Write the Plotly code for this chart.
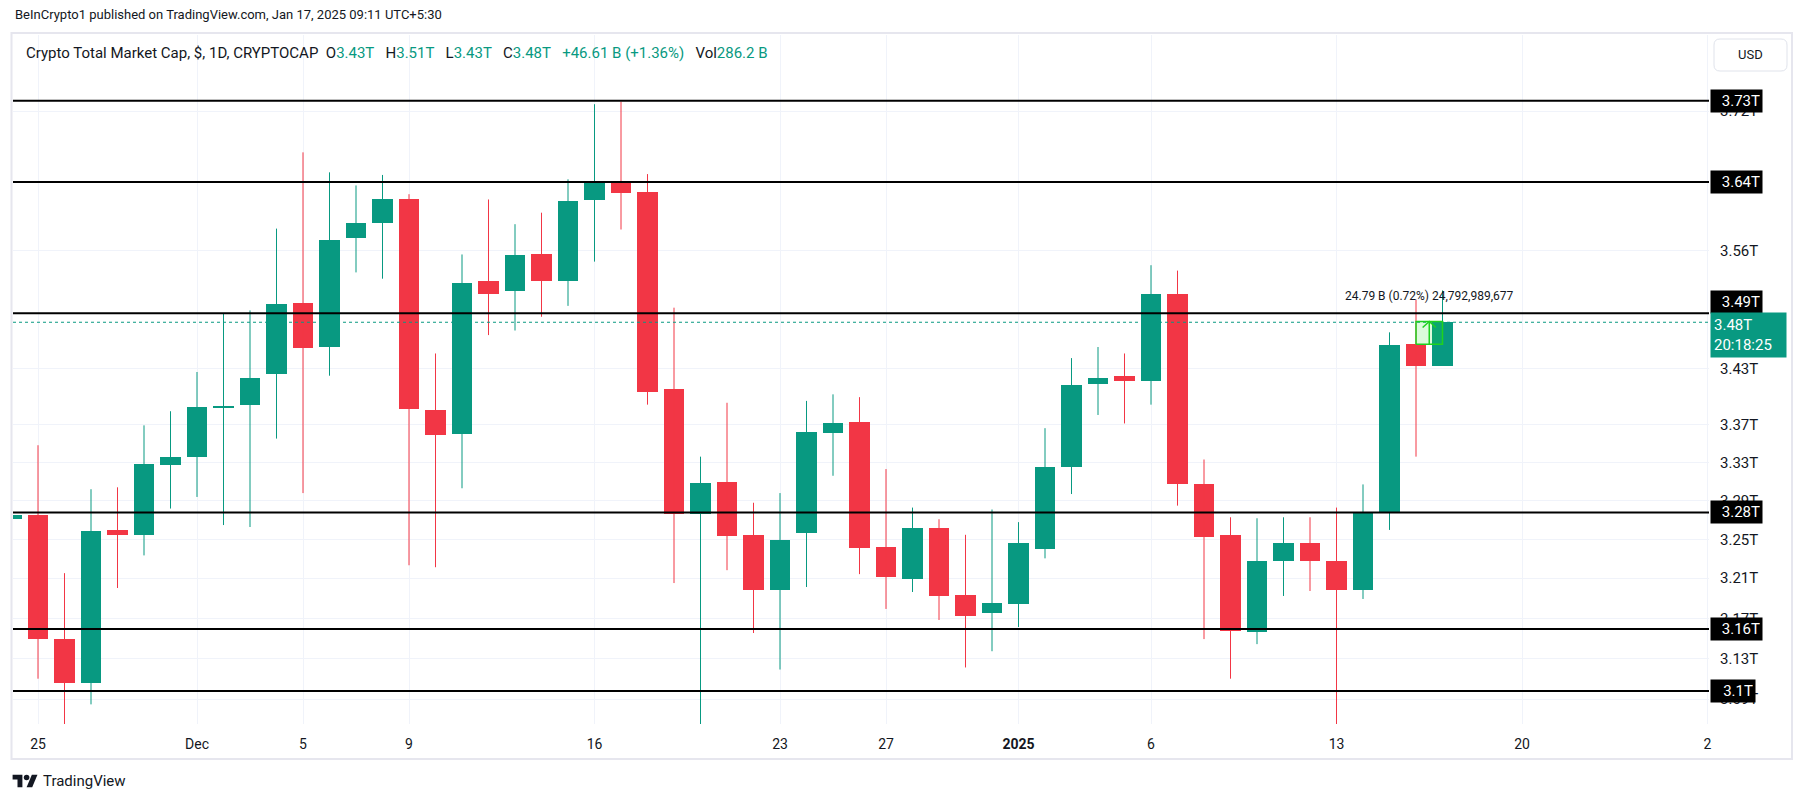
import numpy as np
import pandas as pd
import plotly.graph_objects as go

# ---------------- data (values in trillions USD) ----------------
start_date = "2024-11-24"
opens  = [3.271, 3.275, 3.150, 3.107, 3.260, 3.255, 3.327, 3.336, 3.388, 3.391,
          3.424, 3.501, 3.453, 3.573, 3.590, 3.617, 3.385, 3.360, 3.526, 3.514,
          3.555, 3.526, 3.616, 3.638, 3.625, 3.408, 3.276, 3.309, 3.255, 3.199,
          3.257, 3.361, 3.373, 3.243, 3.210, 3.262, 3.194, 3.176, 3.185, 3.241,
          3.325, 3.413, 3.422, 3.416, 3.511, 3.307, 3.255, 3.157, 3.228, 3.247,
          3.228, 3.199, 3.278, 3.456, 3.433]
highs  = [3.290, 3.348, 3.216, 3.302, 3.304, 3.369, 3.384, 3.426, 3.490, 3.493,
          3.584, 3.671, 3.648, 3.633, 3.645, 3.623, 3.446, 3.555, 3.617, 3.589,
          3.602, 3.640, 3.727, 3.730, 3.646, 3.496, 3.336, 3.393, 3.288, 3.298,
          3.395, 3.402, 3.399, 3.323, 3.283, 3.271, 3.255, 3.281, 3.268, 3.366,
          3.441, 3.453, 3.446, 3.543, 3.537, 3.333, 3.273, 3.272, 3.273, 3.273,
          3.283, 3.307, 3.469, 3.505, 3.515]
lows   = [3.250, 3.111, 3.060, 3.086, 3.201, 3.234, 3.282, 3.294, 3.265, 3.263,
          3.355, 3.298, 3.422, 3.535, 3.528, 3.224, 3.222, 3.303, 3.466, 3.471,
          3.486, 3.498, 3.547, 3.583, 3.391, 3.206, 3.060, 3.219, 3.156, 3.120,
          3.202, 3.316, 3.215, 3.180, 3.197, 3.169, 3.122, 3.138, 3.162, 3.231,
          3.297, 3.380, 3.371, 3.391, 3.285, 3.150, 3.111, 3.145, 3.193, 3.198,
          3.060, 3.190, 3.260, 3.336, 3.433]
closes = [3.275, 3.150, 3.107, 3.259, 3.255, 3.328, 3.336, 3.388, 3.390, 3.420,
          3.500, 3.452, 3.571, 3.590, 3.617, 3.386, 3.359, 3.523, 3.511, 3.554,
          3.526, 3.615, 3.638, 3.624, 3.405, 3.276, 3.308, 3.254, 3.199, 3.250,
          3.362, 3.371, 3.242, 3.212, 3.262, 3.193, 3.173, 3.186, 3.247, 3.325,
          3.412, 3.420, 3.416, 3.511, 3.307, 3.253, 3.158, 3.228, 3.247, 3.228,
          3.199, 3.278, 3.455, 3.432, 3.480]

levels       = [3.731, 3.637, 3.490, 3.278, 3.160, 3.099]
level_labels = ["3.73T", "3.64T", "3.49T", "3.28T", "3.16T", "3.1T"]

ytick_vals = [3.719, 3.559, 3.430, 3.370, 3.330, 3.290, 3.250, 3.211, 3.170, 3.131, 3.091]
ytick_text = ["3.72T", "3.56T", "3.43T", "3.37T", "3.33T", "3.29T", "3.25T", "3.21T", "3.17T", "3.13T", "3.09T"]

xtick_dates = ["2024-11-25", "2024-12-01", "2024-12-05", "2024-12-09", "2024-12-16", "2024-12-23",
               "2024-12-27", "2025-01-01", "2025-01-06", "2025-01-13", "2025-01-20", "2025-01-27"]
xtick_text  = ["25", "Dec", "5", "9", "16", "23", "27", "<b>2025</b>", "6", "13", "20", "2"]

last_price_label = "3.48T"
countdown = "20:18:25"
measure_dates = ["2025-01-16", "2025-01-17"]
measure_range = [3.4560, 3.4808]
measure_text = "24.79\u00a0B (0.72%) 24,792,989,677"

header_text = "BeInCrypto1 published on TradingView.com, Jan 17, 2025 09:11 UTC+5:30"
symbol_text = "Crypto Total Market Cap, $, 1D, CRYPTOCAP"
ohlc_text = {"O": "3.43T", "H": "3.51T", "L": "3.43T", "C": "3.48T"}
change_text = "+46.61\u00a0B (+1.36%)"
vol_text = "286.2\u00a0B"

# ---------------- style / layout ----------------
UP, DOWN, TXT, GRID = "#089981", "#F23645", "#131722", "#f0f3fa"
FONT = "Roboto, Arial, sans-serif"
W, H = 1804, 803
PL, PR, PT, PB = 13, 1709, 35, 724          # plot area in pixels


def fx(px):
    return (px - PL) / (PR - PL)


def fy(py):
    return (PB - py) / (PB - PT)


dates = pd.date_range(start_date, periods=len(opens), freq="D")
anchor = pd.Timestamp("2024-11-25")
day_px = 26.5
x_start = anchor + pd.Timedelta(days=(PL - 38) / day_px)
x_end = anchor + pd.Timedelta(days=(PR - 38) / day_px)
y_range = [3.067, 3.809]

fig = go.Figure()

is_up = [c >= o for o, c in zip(opens, closes)]

# wicks
for color, flag in ((UP, True), (DOWN, False)):
    xs, ys = [], []
    for d, h, l, u in zip(dates, highs, lows, is_up):
        if u == flag:
            xs += [d, d, None]
            ys += [l, h, None]
    fig.add_trace(go.Scatter(x=xs, y=ys, mode="lines", line=dict(color=color, width=1),
                             hoverinfo="skip", showlegend=False))

# bodies
fig.add_trace(go.Bar(
    x=dates,
    y=[abs(c - o) for o, c in zip(opens, closes)],
    base=[min(o, c) for o, c in zip(opens, closes)],
    width=0.79 * 86400000,
    marker=dict(color=[UP if u else DOWN for u in is_up], line=dict(width=0)),
    showlegend=False, hoverinfo="skip"))

# current price dotted line
fig.add_trace(go.Scatter(x=[x_start, x_end], y=[closes[-1], closes[-1]], mode="lines",
                         line=dict(color=UP, width=1, dash="dot"), showlegend=False, hoverinfo="skip"))

# horizontal levels
for v in levels:
    fig.add_trace(go.Scatter(x=[x_start, x_end], y=[v, v], mode="lines",
                             line=dict(color="black", width=2), showlegend=False, hoverinfo="skip"))

# measure tool
d0, d1 = pd.Timestamp(measure_dates[0]), pd.Timestamp(measure_dates[1])
lo, hi = measure_range
fig.add_trace(go.Scatter(x=[d0, d1, d1, d0, d0], y=[lo, lo, hi, hi, lo], mode="lines",
                         fill="toself", fillcolor="rgba(40,230,40,0.16)",
                         line=dict(color="#1fd21f", width=1.5), showlegend=False, hoverinfo="skip"))
mid = d0 + (d1 - d0) / 2
qd = (d1 - d0) / 4
fig.add_trace(go.Scatter(x=[mid, mid, None, mid - qd, mid, mid + qd],
                         y=[lo, hi, None, hi / 1.0019, hi, hi / 1.0019], mode="lines",
                         line=dict(color="#1fd21f", width=1.5), showlegend=False, hoverinfo="skip"))

ann = []
ann.append(dict(x=mid, y=np.log10(hi), xref="x", yref="y", text=measure_text, showarrow=False,
                yanchor="middle", yshift=26, font=dict(family=FONT, size=12, color=TXT)))

# level labels on price scale
for v, t in zip(levels, level_labels):
    shift = 11 if t == "3.49T" else 0
    ann.append(dict(x=1.0, y=np.log10(v), xref="paper", yref="y", text=t, showarrow=False,
                    xanchor="left", xshift=1, yshift=shift, align="right",
                    bgcolor="black", borderpad=2, width=(40 if len(t) < 5 else 47),
                    font=dict(family=FONT, size=15, color="white")))

# last price label
ann.append(dict(x=1.0, y=np.log10(closes[-1]), xref="paper", yref="y",
                text=last_price_label + "<br>" + countdown, showarrow=False,
                xanchor="left", yanchor="top", xshift=1, yshift=10, align="left",
                bgcolor=UP, borderpad=3, width=69,
                font=dict(family=FONT, size=15, color="white")))

# header & legend
ann.append(dict(x=fx(12.6), y=fy(14), xref="paper", yref="paper", text=header_text,
                showarrow=False, xanchor="left", yanchor="middle",
                font=dict(family=FONT, size=13, color=TXT)))
g = lambda s: f"<span style='color:{UP}'>{s}</span>"
gap = "\u00a0" * 3
legend = (symbol_text + "\u00a0" * 2 + gap.join(f"{k}{g(v)}" for k, v in ohlc_text.items())
          + gap + g(change_text) + gap + "Vol" + g(vol_text))
ann.append(dict(x=fx(24), y=fy(53), xref="paper", yref="paper", text=legend,
                showarrow=False, xanchor="left", yanchor="middle",
                font=dict(family=FONT, size=15, color=TXT)))

# USD button text
ann.append(dict(x=fx(1750), y=fy(55), xref="paper", yref="paper", text="USD",
                showarrow=False, xanchor="center", yanchor="middle",
                font=dict(family=FONT, size=13, color=TXT)))

# footer
ann.append(dict(x=fx(41), y=fy(781), xref="paper", yref="paper", text="TradingView",
                showarrow=False, xanchor="left", yanchor="middle",
                font=dict(family=FONT, size=15, color=TXT)))

shapes = []
# outer frame
shapes.append(dict(type="rect", xref="paper", yref="paper",
                   x0=fx(11.5), x1=fx(1792), y0=fy(759), y1=fy(33),
                   line=dict(color="#e6e6ee", width=2), layer="below"))


def path(points, close=True):
    s = "M" + " L".join(f"{fx(x)},{fy(y)}" for x, y in points)
    return s + (" Z" if close else "")


# USD button (rounded rect)
bx0, bx1, by0, by1, r = 1714, 1787, 39, 71, 6
usd = (f"M{fx(bx0 + r)},{fy(by0)} L{fx(bx1 - r)},{fy(by0)} Q{fx(bx1)},{fy(by0)} {fx(bx1)},{fy(by0 + r)} "
       f"L{fx(bx1)},{fy(by1 - r)} Q{fx(bx1)},{fy(by1)} {fx(bx1 - r)},{fy(by1)} "
       f"L{fx(bx0 + r)},{fy(by1)} Q{fx(bx0)},{fy(by1)} {fx(bx0)},{fy(by1 - r)} "
       f"L{fx(bx0)},{fy(by0 + r)} Q{fx(bx0)},{fy(by0)} {fx(bx0 + r)},{fy(by0)} Z")
shapes.append(dict(type="path", xref="paper", yref="paper", path=usd,
                   line=dict(color="#e0e3eb", width=1), fillcolor="white"))

# TradingView logo
s, ox, oy = 0.7, 12.6, 771.9
P = lambda x, y: (ox + x * s, oy + y * s)
shapes.append(dict(type="path", xref="paper", yref="paper",
                   path=path([P(14, 22), P(7, 22), P(7, 11), P(0, 11), P(0, 4), P(14, 4)]),
                   fillcolor=TXT, line=dict(width=0)))
shapes.append(dict(type="path", xref="paper", yref="paper",
                   path=path([P(28, 22), P(20, 22), P(27.5, 4), P(35.5, 4)]),
                   fillcolor=TXT, line=dict(width=0)))
cx, cy = P(20, 8)
shapes.append(dict(type="circle", xref="paper", yref="paper",
                   x0=fx(cx - 4 * s), x1=fx(cx + 4 * s), y0=fy(cy + 4 * s), y1=fy(cy - 4 * s),
                   fillcolor=TXT, line=dict(width=0)))

fig.update_layout(
    width=W, height=H,
    margin=dict(l=PL, r=W - PR, t=PT, b=H - PB),
    paper_bgcolor="white", plot_bgcolor="white",
    showlegend=False, bargap=0,
    font=dict(family=FONT, color=TXT),
    xaxis=dict(type="date", range=[x_start, x_end], tickvals=xtick_dates, ticktext=xtick_text,
               showgrid=True, gridcolor=GRID, gridwidth=1, zeroline=False, showline=False,
               ticks="", tickfont=dict(family=FONT, size=14, color=TXT), ticklabelstandoff=10,
               fixedrange=True),
    yaxis=dict(type="log", range=[np.log10(y_range[0]), np.log10(y_range[1])], side="right",
               tickvals=ytick_vals, ticktext=ytick_text, showgrid=True, gridcolor=GRID,
               zeroline=False, showline=False, ticks="",
               tickfont=dict(family=FONT, size=15, color=TXT), ticklabelstandoff=10,
               fixedrange=True),
    annotations=ann, shapes=shapes,
)

fig.write_html("out.html", config={"displayModeBar": False},
               post_script="document.body.style.margin='0';document.body.style.overflow='hidden';")
